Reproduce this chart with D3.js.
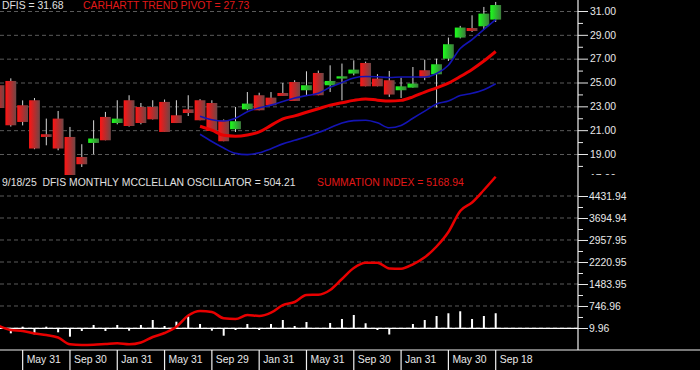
<!DOCTYPE html>
<html>
<head>
<meta charset="utf-8">
<script src="https://cdn.jsdelivr.net/npm/d3@7"></script>
<style>
  body { margin: 0; background: #000; }
  svg { display: block; }
  text { font-family: "Liberation Sans", Arial, sans-serif; font-size: 10.4px; white-space: pre; }
</style>
</head>
<body>
<div id="chart"></div>
<script>
// monthly bars, Mar 2022 .. Sep 2025
const months = ["2022-03","2022-04","2022-05","2022-06","2022-07","2022-08","2022-09","2022-10","2022-11","2022-12",
  "2023-01","2023-02","2023-03","2023-04","2023-05","2023-06","2023-07","2023-08","2023-09","2023-10","2023-11","2023-12",
  "2024-01","2024-02","2024-03","2024-04","2024-05","2024-06","2024-07","2024-08","2024-09","2024-10","2024-11","2024-12",
  "2025-01","2025-02","2025-03","2025-04","2025-05","2025-06","2025-07","2025-08","2025-09"];

const open  = [24.77,25.13,23.09,23.51,20.66,21.97,20.43,18.75,19.93,22.11,21.60,23.51,22.95,22.95,23.37,22.25,22.75,
  23.51,23.28,21.83,21.08,22.75,23.93,23.73,24.12,25.04,24.35,25.80,24.77,25.33,25.75,26.64,25.33,25.19,
  24.35,24.57,26.03,25.69,27.00,28.77,29.57,29.72,30.28];
const high  = [25.30,25.35,23.50,23.70,21.97,22.61,21.27,19.82,21.83,22.53,23.51,23.93,23.28,23.51,23.57,23.51,23.93,
  23.60,23.51,21.90,22.95,24.20,24.14,24.20,24.96,25.19,25.94,26.00,26.44,26.59,26.86,26.75,25.70,25.97,
  25.41,26.30,26.92,27.00,28.77,29.75,30.64,31.34,31.76];
const low   = [22.60,21.30,21.40,19.40,19.73,19.31,17.20,17.91,18.98,20.15,21.49,21.30,21.49,21.90,20.85,21.60,22.19,
  21.83,20.93,20.07,20.85,22.67,22.67,23.09,23.87,23.45,23.93,23.93,24.20,23.51,25.60,24.68,24.68,23.79,
  23.70,24.57,25.19,22.90,26.81,28.70,29.24,29.44,30.08];
const close = [22.86,21.41,21.69,19.46,20.43,19.46,17.22,18.14,20.30,20.15,21.97,21.35,21.60,21.91,20.85,21.60,22.44,
  21.83,20.93,20.07,21.75,23.23,22.67,23.09,23.87,23.45,24.77,23.93,25.13,25.52,26.08,24.68,24.68,23.99,
  24.68,24.91,25.41,26.53,28.21,29.61,29.32,30.78,31.50];

// bands and Carhartt trend pivot start with the Aug 2023 bar
const upperBand = [null,null,null,null,null,null,null,null,null,null,null,null,null,null,null,null,null,
  22.17,21.87,21.77,22.00,22.55,22.87,23.10,23.40,23.70,23.90,24.10,24.60,25.00,25.38,25.50,25.48,25.42,
  25.46,25.46,25.46,25.75,26.45,27.85,28.60,29.45,30.28];
const trendPivot = [null,null,null,null,null,null,null,null,null,null,null,null,null,null,null,null,null,
  21.33,21.00,20.57,20.50,20.60,20.85,21.40,21.95,22.20,22.50,22.80,23.10,23.30,23.50,23.62,23.52,23.45,
  23.50,23.80,24.20,24.55,24.95,25.50,26.10,26.80,27.60];
const lowerBand = [null,null,null,null,null,null,null,null,null,null,null,null,null,null,null,null,null,
  20.66,20.05,19.50,19.05,18.95,19.10,19.45,19.85,20.15,20.45,20.80,21.20,21.60,21.80,21.83,21.62,21.20,
  21.40,22.00,22.60,23.20,23.45,23.90,24.10,24.40,24.90];

const oscillator = [-120,-168,54,-201,54,-134,-281,-90,111,-90,111,-80,111,278,77,221,402,
  144,-80,-248,-57,144,-57,144,278,77,211,8,178,312,446,168,-57,-208,
  5,144,278,412,503,570,312,412,504.21];
const summation = [77,-57,-90,-174,-225,-308,-536,-560,-550,-526,-503,-536,-476,-292,-158,53,429,
  579,546,335,311,445,412,522,780,881,1115,1125,1283,1651,2020,2197,2197,2003,
  1996,2144,2378,2740,3226,3929,4214,4633,5078];

const tickMonths = ["2022-05","2022-09","2023-01","2023-05","2023-09","2024-01","2024-05","2024-09","2025-01","2025-05","2025-09"];
const tickLabels = ["May 31","Sep 30","Jan 31","May 31","Sep 29","Jan 31","May 31","Sep 30","Jan 31","May 30","Sep 18"];

const priceTicks = [17,19,21,23,25,27,29,31];
const priceMinor = [18,20,22,24,26,28,30];
const sumTicks = [9.96,746.96,1483.95,2220.95,2957.95,3694.94,4431.94];

const width = 700, height = 370;
const axisX = 578, baseY = 350, splitY = 175;

const svg = d3.select("#chart").append("svg")
  .attr("width", width)
  .attr("height", height)
  .style("background", "#000");

const defs = svg.append("defs");
defs.append("clipPath").attr("id", "clipTop")
  .append("rect").attr("x", 0).attr("y", 0).attr("width", width).attr("height", splitY);

function grad(id, c0, c1) {
  const g = defs.append("linearGradient").attr("id", id)
    .attr("x1", "0%").attr("x2", "100%").attr("y1", "0%").attr("y2", "0%");
  g.append("stop").attr("offset", "0%").attr("stop-color", c0);
  g.append("stop").attr("offset", "100%").attr("stop-color", c1);
}
grad("gRed", "#ff1414", "#6e4646");
grad("gGreen", "#1cff1c", "#3c7a3c");

// scales
const x = d3.scaleLinear().domain([0, months.length - 1]).range([-1, 495.7]);
const yP = d3.scaleLinear().domain([19, 31]).range([154, 11]);
const yS = d3.scaleLinear().domain([9.96, 4431.94]).range([328, 196]);

const bw = (x(1) - x(0)) - 1;
const bars = months.map((m, i) => ({ i, o: open[i], h: high[i], l: low[i], c: close[i] }));

// ---------- upper panel ----------
const upper = svg.append("g").attr("clip-path", "url(#clipTop)");

upper.selectAll("line.grid")
  .data(priceTicks)
  .enter().append("line")
  .attr("x1", 0).attr("x2", axisX)
  .attr("y1", d => yP(d) + 0.5).attr("y2", d => yP(d) + 0.5)
  .attr("stroke", "#5a5a5a")
  .attr("stroke-dasharray", "4,3");

// wicks
upper.selectAll("line.wick")
  .data(bars)
  .enter().append("line")
  .attr("x1", d => x(d.i)).attr("x2", d => x(d.i))
  .attr("y1", d => yP(d.h)).attr("y2", d => yP(d.l))
  .attr("stroke", "#d8d8d8")
  .attr("stroke-width", 1);

// bodies
upper.selectAll("rect.body")
  .data(bars)
  .enter().append("rect")
  .attr("x", d => x(d.i) - bw / 2)
  .attr("width", bw)
  .attr("y", d => yP(Math.max(d.o, d.c)))
  .attr("height", d => Math.max(1.5, Math.abs(yP(d.o) - yP(d.c))))
  .attr("fill", d => d.c >= d.o ? "url(#gGreen)" : "url(#gRed)");

const bandLine = arr => d3.line()
  .defined((d, i) => arr[i] != null)
  .x((d, i) => x(i))
  .y((d, i) => yP(arr[i]))
  .curve(d3.curveMonotoneX)(arr);

upper.append("path").attr("d", bandLine(lowerBand))
  .attr("fill", "none").attr("stroke", "#1414b4").attr("stroke-width", 1.6);
upper.append("path").attr("d", bandLine(upperBand))
  .attr("fill", "none").attr("stroke", "#1414b4").attr("stroke-width", 1.6);
upper.append("path").attr("d", bandLine(trendPivot))
  .attr("fill", "none").attr("stroke", "#e80000").attr("stroke-width", 3);

// price axis ticks
upper.append("g")
  .attr("transform", `translate(${axisX},0)`)
  .call(d3.axisRight(yP).tickValues(priceMinor).tickSize(5).tickSizeOuter(0).tickFormat(""))
  .call(g => g.select(".domain").remove())
  .call(g => g.selectAll("line").attr("stroke", "#e8e8e8"));
upper.append("g")
  .attr("transform", `translate(${axisX},0)`)
  .call(d3.axisRight(yP).tickValues(priceTicks).tickSize(10).tickPadding(2).tickSizeOuter(0).tickFormat(d3.format(".2f")))
  .call(g => g.select(".domain").remove())
  .call(g => g.selectAll("line").attr("stroke", "#e8e8e8"))
  .call(g => g.selectAll("text").attr("fill", "#e8e8e8").style("font-size", "10.4px")
    .style("font-family", "'Liberation Sans', Arial, sans-serif"));

upper.append("text").attr("x", 2).attr("y", 9).attr("fill", "#e0e0e0").text("DFIS = 31.68");
upper.append("text").attr("x", 83).attr("y", 9).attr("fill", "#e01818").text("CARHARTT TREND PIVOT = 27.73");

// ---------- lower panel ----------
const lower = svg.append("g");

lower.selectAll("line.grid")
  .data(sumTicks)
  .enter().append("line")
  .attr("x1", 0).attr("x2", axisX)
  .attr("y1", d => yS(d)).attr("y2", d => yS(d))
  .attr("stroke", "#5a5a5a")
  .attr("stroke-dasharray", "4,3");

lower.append("line")
  .attr("x1", 0).attr("x2", axisX)
  .attr("y1", yS(0)).attr("y2", yS(0))
  .attr("stroke", "#ffffff").attr("stroke-width", 1.2);

lower.selectAll("rect.osc")
  .data(oscillator)
  .enter().append("rect")
  .attr("x", (d, i) => x(i) - 1)
  .attr("width", 2)
  .attr("y", d => Math.min(yS(0), yS(d)))
  .attr("height", d => Math.abs(yS(d) - yS(0)))
  .attr("fill", "#ffffff");

lower.append("path")
  .attr("d", d3.line().x((d, i) => x(i)).y(d => yS(d)).curve(d3.curveMonotoneX)(summation))
  .attr("fill", "none").attr("stroke", "#e80000").attr("stroke-width", 2.5);

const sumMinor = sumTicks.slice(0, -1).map((d, i) => (d + sumTicks[i + 1]) / 2);
lower.append("g")
  .attr("transform", `translate(${axisX},0)`)
  .call(d3.axisRight(yS).tickValues(sumMinor).tickSize(5).tickSizeOuter(0).tickFormat(""))
  .call(g => g.select(".domain").remove())
  .call(g => g.selectAll("line").attr("stroke", "#e8e8e8"));
lower.append("g")
  .attr("transform", `translate(${axisX},0)`)
  .call(d3.axisRight(yS).tickValues(sumTicks).tickSize(10).tickPadding(1).tickSizeOuter(0).tickFormat(d3.format(".2f")))
  .call(g => g.select(".domain").remove())
  .call(g => g.selectAll("line").attr("stroke", "#e8e8e8"))
  .call(g => g.selectAll("text").attr("fill", "#e8e8e8").style("font-size", "10.4px")
    .style("font-family", "'Liberation Sans', Arial, sans-serif"));

lower.append("text").attr("x", 2).attr("y", 186).attr("fill", "#e0e0e0")
  .text("9/18/25  DFIS MONTHLY MCCLELLAN OSCILLATOR = 504.21");
lower.append("text").attr("x", 317).attr("y", 186).attr("fill", "#e01818")
  .text("SUMMATION INDEX = 5168.94");

// frame: right axis line and bottom date strip
svg.append("line").attr("x1", axisX).attr("x2", axisX).attr("y1", 0).attr("y2", baseY)
  .attr("stroke", "#f0f0f0").attr("stroke-width", 1.2);
svg.append("line").attr("x1", 0).attr("x2", width).attr("y1", baseY).attr("y2", baseY)
  .attr("stroke", "#f0f0f0").attr("stroke-width", 1.2);

const dateTicks = tickMonths.map((m, k) => ({ i: months.indexOf(m), label: tickLabels[k] }));
const dt = svg.append("g").selectAll("g").data(dateTicks).enter().append("g")
  .attr("transform", d => `translate(${x(d.i)},0)`);
dt.append("line").attr("y1", baseY).attr("y2", height)
  .attr("stroke", "#f0f0f0").attr("stroke-width", 1.2);
dt.append("text").attr("x", 4).attr("y", 363).attr("fill", "#e8e8e8").text(d => d.label);
</script>
</body>
</html>
